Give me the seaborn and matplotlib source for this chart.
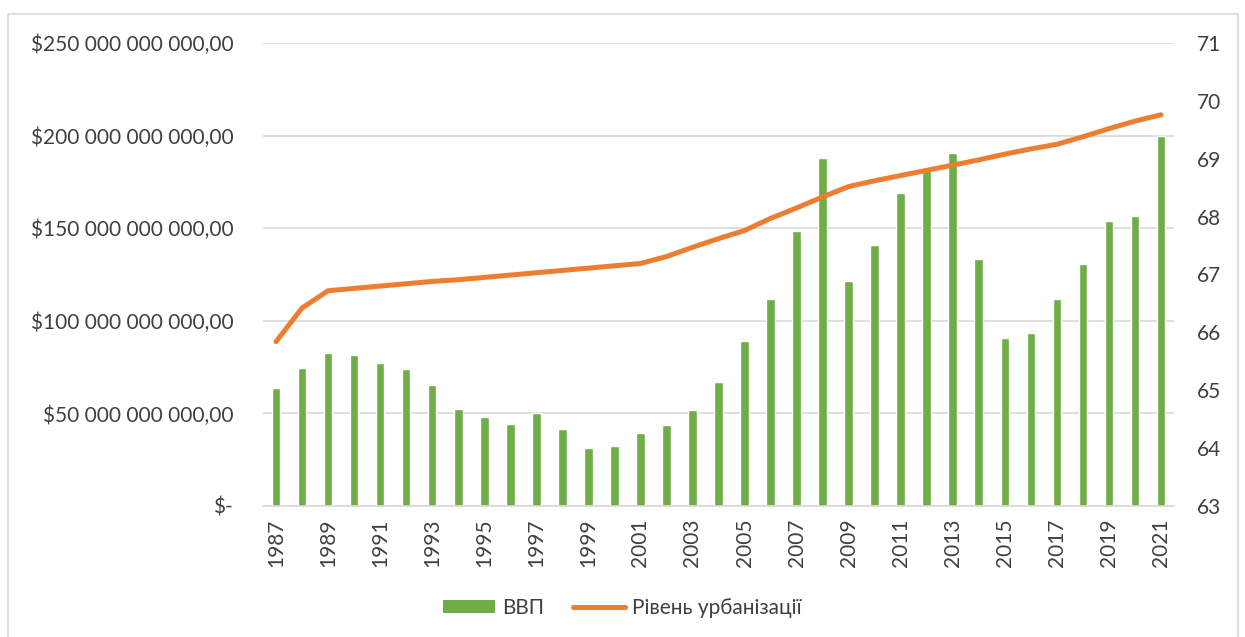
import matplotlib
matplotlib.use("Agg")
from matplotlib import pyplot as plt
from matplotlib.patches import Patch, Rectangle
from matplotlib.lines import Line2D
import seaborn as sns
import pandas as pd

years = list(range(1987, 2022))
gdp_bn = [63.9, 74.7, 82.6, 81.4, 77.2, 73.8, 65.3, 52.4, 48.1, 44.3,
          50.0, 41.8, 31.3, 32.2, 39.2, 43.7, 51.8, 67.1, 89.1, 111.8,
          148.5, 188.1, 121.5, 140.9, 169.0, 182.3, 190.4, 133.4, 90.7, 93.2,
          111.9, 130.7, 153.7, 156.4, 199.8]
urban = [65.84, 66.42, 66.72, 66.76, 66.80, 66.84, 66.88, 66.91, 66.95, 66.99,
         67.03, 67.07, 67.11, 67.15, 67.19, 67.31, 67.47, 67.62, 67.76, 67.97,
         68.15, 68.34, 68.52, 68.62, 68.71, 68.80, 68.89, 68.98, 69.08, 69.17,
         69.25, 69.38, 69.52, 69.65, 69.76]

bar_label = "ВВП"
line_label = "Рівень урбанізації"
green = "#70ad47"
orange = "#ed7d31"
text_col = "#404040"
grid_col = "#d9d9d9"
fsize = 15

df = pd.DataFrame({"year": [str(y) for y in years],
                   "gdp": [v * 1e9 for v in gdp_bn],
                   "urban": urban})
df["pos"] = range(len(df))

sns.set_theme(style="white")
plt.rcParams['font.family'] = ['Lato', 'DejaVu Sans']

fig = plt.figure(figsize=(12.45, 6.37), dpi=100)
ax = fig.add_axes([263 / 1245, 1 - 506 / 637, (1174 - 263) / 1245, (506 - 43) / 637])

sns.barplot(data=df, x="year", y="gdp", color=green, width=0.33,
            saturation=1, ax=ax)
ax.set_ylim(0, 250e9)
ax.set_xlim(-0.5, len(df) - 0.5)
ax.set_yticks([0, 50e9, 100e9, 150e9, 200e9, 250e9])
ax.set_yticklabels(["$-", "$50 000 000 000,00", "$100 000 000 000,00",
                    "$150 000 000 000,00", "$200 000 000 000,00",
                    "$250 000 000 000,00"])
ax.set_xticks(df["pos"][::2])
ax.set_xticklabels(df["year"][::2], rotation=90)
ax.yaxis.grid(True, color=grid_col, linewidth=1.2)
ax.set_axisbelow(True)
for s in ["top", "right", "left"]:
    ax.spines[s].set_visible(False)
ax.spines["bottom"].set_color(grid_col)
ax.spines["bottom"].set_linewidth(1.2)
ax.tick_params(axis="both", length=0, labelsize=fsize, colors=text_col)
ax.tick_params(axis="y", pad=21.5)
ax.tick_params(axis="x", pad=9)
ax.set_xlabel("")
ax.set_ylabel("")

ax2 = ax.twinx()
sns.lineplot(data=df, x="pos", y="urban", color=orange, linewidth=3.6,
             ax=ax2, solid_capstyle="round")
ax2.set_ylim(63, 71)
ax2.set_yticks(range(63, 72))
ax2.set_xlim(-0.5, len(df) - 0.5)
for s in ax2.spines.values():
    s.set_visible(False)
ax2.tick_params(axis="y", length=0, labelsize=fsize, colors=text_col, pad=16.5)
ax2.set_ylabel("")
ax2.set_xlabel("")

handles = [Patch(facecolor=green, edgecolor="none"),
           Line2D([0], [0], color=orange, linewidth=3.6, solid_capstyle="round")]
fig.legend(handles, [bar_label, line_label], loc="center",
           bbox_to_anchor=(0.5, 1 - 608 / 637), ncol=2, frameon=False,
           fontsize=fsize, labelcolor=text_col, handlelength=2.5,
           handleheight=0.6, handletextpad=0.35, columnspacing=1.35)

fig.patches.append(Rectangle((7.5 / 1245, -0.1), (1238 - 7.5) / 1245, 1.1 - 14 / 637,
                             transform=fig.transFigure, fill=False,
                             edgecolor=grid_col, linewidth=1.2))

fig.savefig("out.png", dpi=100, facecolor="white")
